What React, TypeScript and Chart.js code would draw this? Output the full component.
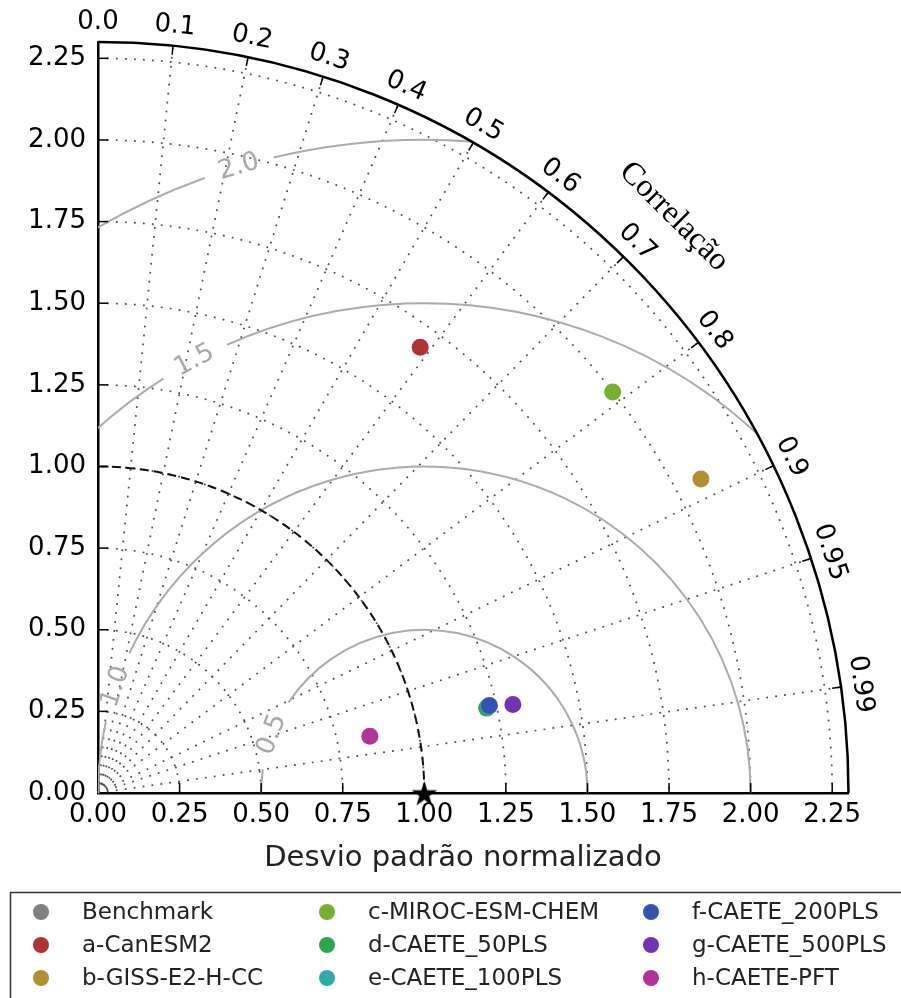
import React, { useEffect, useRef } from 'react';
import { Chart, registerables } from 'chart.js';

Chart.register(...registerables);

// ---------- data ----------
const models = [
  'Benchmark',
  'a-CanESM2',
  'b-GISS-E2-H-CC',
  'c-MIROC-ESM-CHEM',
  'd-CAETE_50PLS',
  'e-CAETE_100PLS',
  'f-CAETE_200PLS',
  'g-CAETE_500PLS',
  'h-CAETE-PFT',
];
// normalised standard deviation and correlation of each model
const normStd = [1.0, 1.685, 2.083, 1.999, 1.219, 1.226, 1.229, 1.3, 0.851];
const correlation = [1.0, 0.586, 0.887, 0.789, 0.977, 0.9763, 0.976, 0.978, 0.979];
const colors = ['#808080', '#b13232', '#b3902f', '#77b02e', '#2fa64e', '#2eaaaa', '#3253b0', '#7234b1', '#b0349a'];

const stdTicks = [0, 0.25, 0.5, 0.75, 1.0, 1.25, 1.5, 1.75, 2.0, 2.25];
const stdTickLabels = ['0.00', '0.25', '0.50', '0.75', '1.00', '1.25', '1.50', '1.75', '2.00', '2.25'];
const corrTicks = [0, 0.1, 0.2, 0.3, 0.4, 0.5, 0.6, 0.7, 0.8, 0.9, 0.95, 0.99];
const corrTickLabels = ['0.0', '0.1', '0.2', '0.3', '0.4', '0.5', '0.6', '0.7', '0.8', '0.9', '0.95', '0.99'];
const rmsLevels = [0.5, 1.0, 1.5, 2.0];
const rmsLabels = ['0.5', '1.0', '1.5', '2.0'];
const STD_MAX = 2.3;
const REF_STD = 1.0;

// ---------- layout / style constants ----------
const rmsLabelAngle = [159, 161, 118, 106.5]; // degrees around the reference point
const SANS = 'DejaVu Sans';

function makeStar(size: number) {
  const c = document.createElement('canvas');
  c.width = size;
  c.height = size;
  const g = c.getContext('2d')!;
  const R = size / 2;
  const r = R * 0.382;
  g.beginPath();
  for (let k = 0; k < 10; k++) {
    const rad = k % 2 === 0 ? R : r;
    const a = -Math.PI / 2 + (k * Math.PI) / 5;
    g.lineTo(R + rad * Math.cos(a), R + rad * Math.sin(a) + 1.5);
  }
  g.closePath();
  g.fillStyle = '#000';
  g.fill();
  return c;
}

const taylorPlugin = {
  id: 'taylor',
  beforeDatasetsDraw(chart: any) {
    const ctx: CanvasRenderingContext2D = chart.ctx;
    const xs = chart.scales.x;
    const ys = chart.scales.y;
    const px = (x: number, y: number) => [xs.getPixelForValue(x), ys.getPixelForValue(y)];
    const sx = xs.getPixelForValue(1) - xs.getPixelForValue(0);
    const sy = ys.getPixelForValue(0) - ys.getPixelForValue(1);
    const [ox, oy] = px(0, 0);

    ctx.save();
    // dotted std circles
    ctx.strokeStyle = '#4a4a4a';
    ctx.lineWidth = 1.7;
    ctx.setLineDash([1.8, 7.2]);
    stdTicks.forEach((s) => {
      if (s <= 0) return;
      ctx.beginPath();
      ctx.ellipse(ox, oy, s * sx, s * sy, 0, -Math.PI / 2, 0);
      ctx.stroke();
    });
    // dotted correlation rays
    corrTicks.forEach((c) => {
      if (c <= 0) return;
      const t = Math.acos(c);
      const [ex, ey] = px(STD_MAX * Math.cos(t), STD_MAX * Math.sin(t));
      ctx.beginPath();
      ctx.moveTo(ox, oy);
      ctx.lineTo(ex, ey);
      ctx.stroke();
    });
    ctx.restore();

    // RMS contours
    ctx.save();
    ctx.beginPath();
    ctx.moveTo(ox, oy);
    ctx.ellipse(ox, oy, STD_MAX * sx, STD_MAX * sy, 0, -Math.PI / 2, 0);
    ctx.closePath();
    ctx.clip();
    const [rx0, ry0] = px(REF_STD, 0);
    ctx.strokeStyle = '#ababab';
    ctx.lineWidth = 2;
    rmsLevels.forEach((lv, i) => {
      const la = (rmsLabelAngle[i] * Math.PI) / 180;
      const gap = 36 / (lv * sx);
      const segs = [
        [0, la - gap],
        [la + gap, Math.PI],
      ];
      segs.forEach(([a1, a2]) => {
        ctx.beginPath();
        ctx.ellipse(rx0, ry0, lv * sx, lv * sy, 0, -a2, -a1);
        ctx.stroke();
      });
    });
    ctx.restore();

    // reference std dashed arc
    ctx.save();
    ctx.strokeStyle = '#111';
    ctx.lineWidth = 2;
    ctx.setLineDash([9, 5]);
    ctx.beginPath();
    ctx.ellipse(ox, oy, REF_STD * sx, REF_STD * sy, 0, -Math.PI / 2, 0);
    ctx.stroke();
    ctx.restore();

    // outer arc
    ctx.save();
    ctx.strokeStyle = '#000';
    ctx.lineWidth = 2.5;
    ctx.beginPath();
    ctx.ellipse(ox, oy, STD_MAX * sx, STD_MAX * sy, 0, -Math.PI / 2, 0);
    ctx.stroke();
    // correlation ticks (inward)
    ctx.lineWidth = 1.5;
    corrTicks.forEach((c) => {
      if (c <= 0) return;
      const t = Math.acos(c);
      const [ex, ey] = px(STD_MAX * Math.cos(t), STD_MAX * Math.sin(t));
      ctx.beginPath();
      ctx.moveTo(ex, ey);
      ctx.lineTo(ex - 9 * Math.cos(t), ey + 9 * Math.sin(t));
      ctx.stroke();
    });
    // std ticks on axes (inward)
    stdTicks.forEach((s) => {
      if (s <= 0) return;
      const [tx] = px(s, 0);
      ctx.beginPath();
      ctx.moveTo(tx, oy);
      ctx.lineTo(tx, oy - 10);
      ctx.stroke();
      const [, ty] = px(0, s);
      ctx.beginPath();
      ctx.moveTo(ox, ty);
      ctx.lineTo(ox + 10, ty);
      ctx.stroke();
    });
    ctx.restore();
  },
  afterDraw(chart: any) {
    const ctx: CanvasRenderingContext2D = chart.ctx;
    const xs = chart.scales.x;
    const ys = chart.scales.y;
    const px = (x: number, y: number) => [xs.getPixelForValue(x), ys.getPixelForValue(y)];
    const sx = xs.getPixelForValue(1) - xs.getPixelForValue(0);

    ctx.save();
    ctx.textAlign = 'center';
    ctx.textBaseline = 'middle';

    // correlation tick labels
    ctx.fillStyle = '#000';
    ctx.font = `26px "${SANS}"`;
    corrTicks.forEach((c, i) => {
      const t = Math.acos(c);
      const R = STD_MAX + 20 / sx;
      const [lx, ly] = px(R * Math.cos(t), R * Math.sin(t));
      ctx.save();
      ctx.translate(lx, ly);
      ctx.rotate(Math.PI / 2 - t);
      ctx.fillText(corrTickLabels[i], 0, 0);
      ctx.restore();
    });

    // axis title of the angular axis
    {
      const t = Math.PI / 4;
      const R = STD_MAX + 64 / sx;
      const [lx, ly] = px(R * Math.cos(t), R * Math.sin(t));
      ctx.save();
      ctx.translate(lx, ly);
      ctx.rotate(Math.PI / 2 - t);
      ctx.font = '32px "Liberation Serif"';
      ctx.fillText('Correlação', 0, 0);
      ctx.restore();
    }

    // RMS contour labels
    ctx.fillStyle = '#a8a8a8';
    ctx.font = `26px "${SANS}"`;
    rmsLevels.forEach((lv, i) => {
      const a = (rmsLabelAngle[i] * Math.PI) / 180;
      const [lx, ly] = px(REF_STD + lv * Math.cos(a), lv * Math.sin(a));
      ctx.save();
      ctx.translate(lx, ly);
      ctx.rotate(Math.PI / 2 - a);
      ctx.fillText(rmsLabels[i], 0, 0);
      ctx.restore();
    });

    // x axis title
    ctx.fillStyle = '#222';
    ctx.font = `29px "${SANS}"`;
    ctx.fillText('Desvio padrão normalizado', 463, 858);

    // legend
    ctx.strokeStyle = '#333';
    ctx.lineWidth = 1.5;
    ctx.strokeRect(10.5, 892.5, 905, 130);
    const textX = [82, 368, 692];
    const rowY = [912, 945, 978];
    ctx.textAlign = 'left';
    ctx.font = `23px "${SANS}"`;
    models.forEach((m, i) => {
      const col = Math.floor(i / 3);
      const row = i % 3;
      const y = rowY[row];
      ctx.fillStyle = colors[i];
      ctx.beginPath();
      ctx.arc(textX[col] - 41, y, 8, 0, Math.PI * 2);
      ctx.fill();
      ctx.fillStyle = '#222';
      ctx.fillText(m, textX[col], y + 1);
    });
    ctx.restore();
  },
};

export default function App() {
  const ref = useRef<HTMLCanvasElement>(null);
  useEffect(() => {
    if (!ref.current) return;
    const star = makeStar(27);
    const datasets = models.map((m, i) => {
      const t = Math.acos(correlation[i]);
      return {
        label: m,
        data: [{ x: normStd[i] * Math.cos(t), y: normStd[i] * Math.sin(t) }],
        backgroundColor: i === 0 ? '#000' : colors[i],
        borderWidth: 0,
        pointRadius: 8.5,
        pointStyle: i === 0 ? (star as any) : 'circle',
        clip: false as any,
        order: -i,
      };
    });
    const tickFont = { family: SANS, size: 26 };
    const chart = new Chart(ref.current, {
      type: 'scatter',
      data: { datasets },
      plugins: [taylorPlugin],
      options: {
        animation: false,
        responsive: false,
        devicePixelRatio: 1,
        events: [],
        layout: { padding: { left: 0, top: 42, right: 52.5, bottom: 155 } },
        plugins: { legend: { display: false }, tooltip: { enabled: false } },
        scales: {
          x: {
            type: 'linear',
            min: 0,
            max: STD_MAX,
            afterFit: (s: any) => {
              s.height = 50;
            },
            afterBuildTicks: (s: any) => {
              s.ticks = stdTicks.map((v) => ({ value: v }));
            },
            grid: { display: false, drawTicks: false },
            border: { display: true, color: '#000', width: 2.5 },
            ticks: {
              autoSkip: false,
              maxRotation: 0,
              padding: 7,
              color: '#000',
              font: tickFont,
              callback: (v: any) => stdTickLabels[stdTicks.indexOf(Number(v))],
            },
          },
          y: {
            type: 'linear',
            min: 0,
            max: STD_MAX,
            afterFit: (s: any) => {
              s.width = 98;
            },
            afterBuildTicks: (s: any) => {
              s.ticks = stdTicks.map((v) => ({ value: v }));
            },
            grid: { display: false, drawTicks: false },
            border: { display: true, color: '#000', width: 2.5 },
            ticks: {
              autoSkip: false,
              padding: 12,
              color: '#000',
              font: tickFont,
              callback: (v: any) => stdTickLabels[stdTicks.indexOf(Number(v))],
            },
          },
        },
      } as any,
    });
    return () => chart.destroy();
  }, []);
  return (
    <div style={{ position: 'absolute', left: 0, top: 0, width: 901, height: 998, background: '#fff' }}>
      <canvas ref={ref} width={901} height={998} style={{ display: 'block', width: 901, height: 998 }} />
    </div>
  );
}
